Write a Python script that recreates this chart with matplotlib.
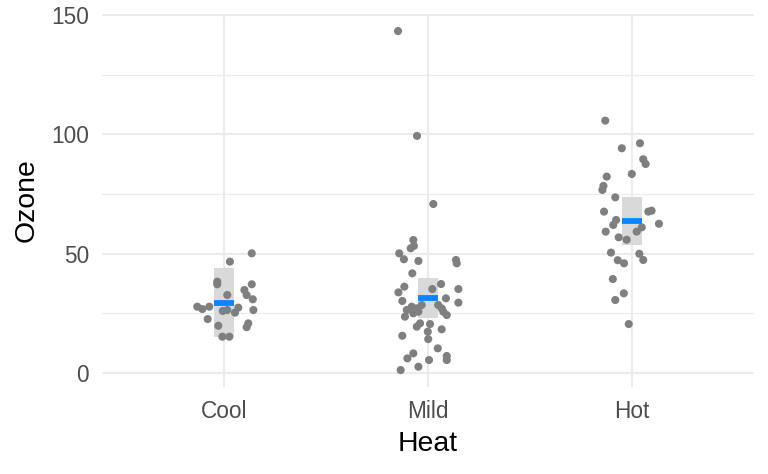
import matplotlib
matplotlib.use("Agg")
import matplotlib.pyplot as plt
import numpy as np

# ---- data ----
categories = ["Cool", "Mild", "Hot"]

cool_ozone = [50.1, 46.6, 38.2, 37.1, 37.1, 34.7, 32.6, 30.8, 32.6, 27.7, 26.7, 27.7,
              27.3, 25.2, 25.9, 26.3, 26.3, 22.5, 19.7, 20.7, 19.1, 15.1, 15.1]
cool_jitter = [0.136, 0.029, -0.033, -0.033, 0.136, 0.100, 0.111, 0.141, 0.016, -0.131, -0.106, -0.072,
               0.070, 0.054, -0.006, 0.016, 0.144, -0.080, -0.028, 0.119, 0.111, -0.008, 0.026]

mild_ozone = [143.4, 99.4, 70.8, 55.7, 53.2, 52.2, 50.1, 47.6, 46.9, 47.3, 45.9, 41.7,
              36.1, 33.7, 35.1, 37.2, 35.1, 30.1, 31.2, 29.4, 28.4, 26.3, 27.7, 27.0,
              28.4, 23.5, 24.9, 25.6, 27.0, 25.6, 24.2, 20.7, 19.3, 20.4, 18.2, 15.5,
              17.2, 14.1, 10.2, 8.1, 6.0, 7.0, 5.3, 5.3, 2.5, 1.1]
mild_jitter = [-0.147, -0.054, 0.026, -0.072, -0.069, -0.085, -0.141, -0.118, -0.047, 0.137, 0.141, -0.077,
               -0.116, -0.145, 0.021, 0.064, 0.149, -0.126, 0.088, 0.149, 0.050, -0.104, -0.080, -0.055,
               -0.031, -0.113, -0.072, -0.047, 0.067, 0.075, 0.092, -0.039, -0.055, 0.010, 0.067, -0.126,
               -0.001, 0.001, 0.048, -0.072, -0.101, 0.092, 0.092, 0.005, -0.047, -0.134]

hot_ozone = [105.8, 94.2, 96.3, 89.6, 87.6, 83.4, 82.3, 78.4, 76.7, 73.6, 67.6, 67.6,
             68.0, 62.5, 64.1, 62.0, 61.0, 59.2, 59.2, 56.8, 55.8, 50.4, 49.9, 47.3,
             47.2, 45.9, 39.3, 33.3, 30.5, 20.4]
hot_jitter = [-0.131, -0.050, 0.039, 0.055, 0.067, -0.001, -0.124, -0.140, -0.145, -0.082, -0.137, 0.080,
              0.096, 0.132, -0.078, -0.092, 0.048, 0.023, -0.129, -0.065, -0.026, -0.103, 0.036, 0.055,
              -0.070, -0.039, -0.094, -0.040, -0.082, -0.016]

summary_lower = [14.9, 23.1, 53.6]
summary_mid = [29.3, 31.3, 63.7]
summary_upper = [43.8, 39.8, 73.9]

y_ticks = [0, 50, 100, 150]
y_minor = [25, 75, 125]

# ---- plot ----
plt.rcParams['font.family'] = ['Liberation Sans', 'DejaVu Sans']
fig = plt.figure(figsize=(7.68, 4.74), dpi=100)
W, H = 768, 474
left, right, top, bottom = 101.6, 754.4, 13.9, 387.2
ax = fig.add_axes([left / W, (H - bottom) / H, (right - left) / W, (bottom - top) / H])

ax.set_xlim(0.4, 3.6)
ax.set_ylim(-6.1, 150.6)

grid_col = "#EBEBEB"
for yv in y_ticks:
    ax.axhline(yv, color=grid_col, lw=1.5, zorder=0)
for yv in y_minor:
    ax.axhline(yv, color=grid_col, lw=0.8, zorder=0)
for i in range(len(categories)):
    ax.axvline(i + 1, color=grid_col, lw=1.5, zorder=0)

box_w = 0.1
for i in range(len(categories)):
    xc = i + 1
    ax.add_patch(plt.Rectangle((xc - box_w / 2, summary_lower[i]), box_w,
                               summary_upper[i] - summary_lower[i],
                               facecolor="#D9D9D9", edgecolor="none", zorder=1))

groups = [(cool_ozone, cool_jitter), (mild_ozone, mild_jitter), (hot_ozone, hot_jitter)]
for i, (vals, jit) in enumerate(groups):
    xs = np.array(jit) + (i + 1)
    ax.scatter(xs, vals, s=34, color="#7F7F7F", edgecolors="none", zorder=2)

for i in range(len(categories)):
    xc = i + 1
    ax.plot([xc - box_w / 2, xc + box_w / 2], [summary_mid[i]] * 2,
            color="#0A85FF", lw=4.2, solid_capstyle="butt", zorder=3)

for s in ax.spines.values():
    s.set_visible(False)
ax.set_xticks(range(1, len(categories) + 1))
ax.set_xticklabels(categories)
ax.set_yticks(y_ticks)
ax.tick_params(axis="both", length=0, labelsize=16.3, colors="#4D4D4D")
ax.tick_params(axis="y", pad=9)
ax.tick_params(axis="x", pad=9.2)
ax.set_xlabel("Heat", fontsize=20.4, color="black", labelpad=5.5)
ax.set_ylabel("Ozone", fontsize=20.4, color="black", labelpad=8)

fig.savefig("out.png", dpi=100)
